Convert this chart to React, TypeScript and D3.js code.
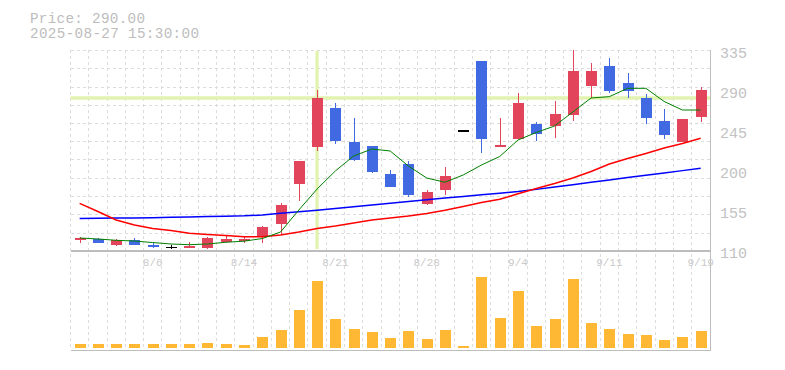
import React from "react";
import * as d3 from "d3";

const dates = ["7/31","8/1","8/4","8/5","8/6","8/7","8/8","8/12","8/13","8/14","8/15","8/18","8/19","8/20","8/21","8/22","8/25","8/26","8/27","8/28","8/29","9/1","9/2","9/3","9/4","9/5","9/8","9/9","9/10","9/11","9/12","9/16","9/17","9/18","9/19"];
const openP = [130.3,131,125,130.2,124.6,122,121.6,121.6,128.4,128.8,133.3,148.6,193.6,235.2,278.75,240.5,236.3,204.5,215.75,171,186.8,253,331.6,235.2,244.2,260.75,258.5,270.9,303.5,326,306.9,290,264,240.8,269];
const highP = [134,132.2,131,132.2,127.2,124.3,128,134,135,134,146,172,219.1,299,284,268,236.3,209,219,186,212.4,253,331.6,268,295.6,263,286.6,344,329.4,334.6,318,294.5,277.6,266.4,302.4];
const lowP = [127,126.6,123.8,124.6,121.6,120,121.6,120.5,126.6,127.2,127.2,136.7,174.5,230.4,238.6,219,206,190.2,179,169.6,181,253,228.5,235.2,244.2,241.6,245,264,289.6,295.3,290.3,260.4,244.2,240.8,263.3];
const closeP = [132.8,127.2,130,125,122.7,122,123.8,132.2,131.4,131.4,144.9,169.3,219.1,290,241.6,220.6,207,190.2,181.2,184.3,202.3,253,244.2,237.5,284.4,249.8,272,320.4,320.4,298.2,298.2,267.8,248.7,266.4,299];
const volume = [40000,40000,40000,40000,40000,40000,40000,50000,40000,30000,110000,180000,380000,670000,290000,190000,160000,100000,170000,90000,180000,20000,710000,300000,570000,220000,290000,690000,250000,190000,140000,130000,80000,110000,170000];
const ma5 = [132.5,131.4,129.9,129.1,127.4,125.75,124.96,125.75,127.7,128.9,131.9,139.25,164,187.6,207.9,224.75,232.6,230.4,213.5,200,195.2,203.4,214.6,224.2,242.75,251.2,258.5,274.25,290,291.5,300.9,300.9,286.1,276.5,276.5];
const ma25 = [171.5,162.3,152.75,147.1,143.2,140.9,137.8,136.4,135.3,133.9,133.85,135.9,139.25,143.2,146,149.4,152.75,155,157.25,160.1,163.7,167.9,172.4,176,182.2,188.2,193.8,200,207.3,215.75,221.9,227.6,233.75,238.8,244.7];
const ma75 = [154.4,154.7,154.9,155.1,155.4,155.8,156.1,156.7,157,157.4,158.4,160.3,161.9,163.7,165.7,167.6,169.6,171.5,173.5,175.4,177.4,179.3,181.2,182.9,184.8,187.2,189.9,192.5,195.2,197.75,200.5,203,205.6,208.3,210.9];
const yTicks = [335, 290, 245, 200, 155, 110];
const labelIndices = [4, 9, 14, 19, 24, 29, 34];
const headerLines = ["Price: 290.00", "2025-08-27 15:30:00"];
const crossIndex = 13;
const crossPrice = 290;

const UP = "#e2445c";
const DOWN = "#4169e1";
const FONT = "'Liberation Mono', 'DejaVu Sans Mono', monospace";

export default function App() {
  const left = 70.5, right = 709.8;
  const top = 50, priceBottom = 250.75, volBottom = 350;
  const x = d3.scaleBand<string>().domain(dates).range([left, right]).padding(0);
  const bw = x.bandwidth();
  const cx = (i: number) => (x(dates[i]) as number) + bw / 2;
  const y = d3.scaleLinear().domain([110, 335]).range([258, 58]);
  const yv = d3.scaleLinear().domain([0, 750000]).range([348, 273]);
  const gridY = d3.scaleLinear().domain([0, 11]).range([top, priceBottom]);
  const bodyW = 11;

  const line = (arr: number[]) =>
    d3.line<number>().x((_, i) => cx(i)).y((d) => y(d))(arr) as string;

  return (
    <svg width={785} height={370} style={{ position: "absolute", left: 0, top: 0, background: "#fff" }}>
      {headerLines.map((t, i) => (
        <text key={t} x={30} y={22.5 + i * 15.5} fill="#bdbdbd" fontFamily={FONT} fontSize={14.3} textLength={i === 0 ? 115 : 169} lengthAdjust="spacing">{t}</text>
      ))}
      {/* horizontal grid */}
      {d3.range(0, 11).map((k) => (
        <line key={"hg" + k} x1={left} x2={right} y1={Math.round(gridY(k)) + 0.5} y2={Math.round(gridY(k)) + 0.5}
          stroke="#dcdcdc" strokeDasharray="3,3" shapeRendering="crispEdges" />
      ))}
      {/* vertical grid */}
      {dates.map((d) => (
        <line key={"vg" + d} x1={Math.floor(x(d) as number) + 0.5} x2={Math.floor(x(d) as number) + 0.5} y1={top} y2={volBottom}
          stroke="#dcdcdc" strokeDasharray="3,3" shapeRendering="crispEdges" />
      ))}
      {/* axes */}
      <line x1={left} x2={711} y1={251} y2={251} stroke="#bdbdbd" strokeWidth={1.5} shapeRendering="crispEdges" />
      <line x1={left} x2={711} y1={350.5} y2={350.5} stroke="#bdbdbd" strokeWidth={1.5} shapeRendering="crispEdges" />
      <line x1={710.5} x2={710.5} y1={top} y2={351} stroke="#bdbdbd" strokeWidth={1.5} shapeRendering="crispEdges" />
      {/* crosshair */}
      <line x1={left} x2={710} y1={y(crossPrice)} y2={y(crossPrice)} stroke="#e2f3b0" strokeWidth={3.3} />
      <line x1={cx(crossIndex)} x2={cx(crossIndex)} y1={top + 1} y2={249} stroke="#e2f3b0" strokeWidth={3.3} />
      {/* y labels */}
      {yTicks.map((v) => (
        <text key={"yt" + v} x={720} y={y(v)} fill="#c2c2c2" fontFamily={FONT} fontSize={15}>{v}</text>
      ))}
      {/* x labels */}
      {labelIndices.map((i) => (
        <text key={"xl" + i} x={cx(i)} y={266} textAnchor="middle" fill="#cacaca" fontFamily={FONT} fontSize={11}>{dates[i]}</text>
      ))}
      {/* candles */}
      {dates.map((d, i) => {
        const o = openP[i], c = closeP[i];
        const color = c > o ? UP : c < o ? DOWN : "#000";
        const yt = y(Math.max(o, c)), yb = y(Math.min(o, c));
        const xc = Math.round(cx(i));
        return (
          <g key={"c" + d}>
            {highP[i] > lowP[i] && (
              <line x1={xc + 0.5} x2={xc + 0.5} y1={y(highP[i])} y2={y(lowP[i])} stroke={color} strokeWidth={1} shapeRendering="crispEdges" />
            )}
            {c === o ? (
              <line x1={xc - bodyW / 2 + 0.5} x2={xc + bodyW / 2 + 0.5} y1={yt} y2={yt} stroke={color} strokeWidth={1.5} shapeRendering="crispEdges" />
            ) : (
              <rect x={xc - bodyW / 2 + 0.5} y={yt} width={bodyW} height={Math.max(1, yb - yt)} fill={color} shapeRendering="crispEdges" />
            )}
          </g>
        );
      })}
      {/* moving averages */}
      <path d={line(ma75)} fill="none" stroke="#0000ff" strokeWidth={1.5} />
      <path d={line(ma25)} fill="none" stroke="#ff0000" strokeWidth={1.5} />
      <path d={line(ma5)} fill="none" stroke="#008000" strokeWidth={1} />
      {/* volume */}
      {dates.map((d, i) => (
        <rect key={"v" + d} x={Math.round(cx(i)) - bodyW / 2 + 0.5} y={yv(volume[i])} width={bodyW}
          height={yv(0) - yv(volume[i])} fill="#ffb833" shapeRendering="crispEdges" />
      ))}
    </svg>
  );
}
